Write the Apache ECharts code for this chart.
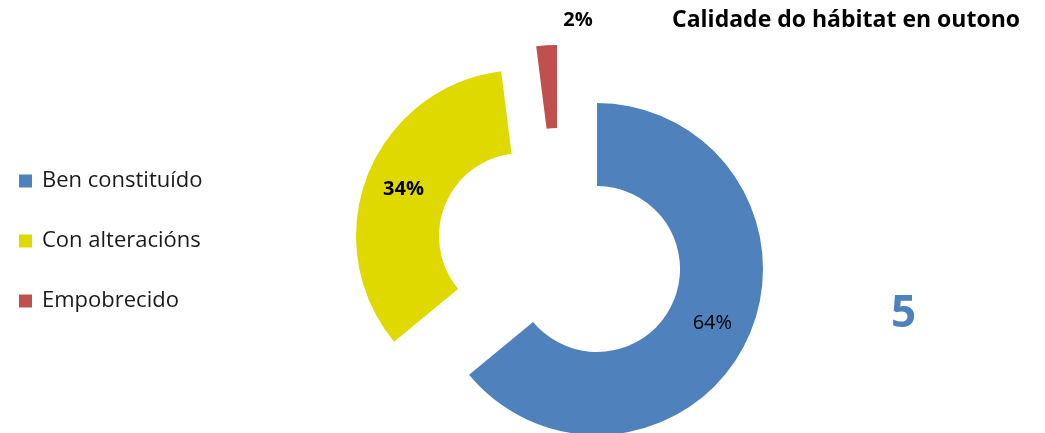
<!DOCTYPE html>
<html>
<head>
<meta charset="utf-8">
<script src="https://cdn.jsdelivr.net/npm/echarts@6/dist/echarts.min.js"></script>
<style>
  html, body { margin: 0; padding: 0; background: #fff; }
  #chart { width: 1045px; height: 433px; }
</style>
</head>
<body>
<div id="chart"></div>
<script>
// Habitat quality shares (autumn)
const categories = ['Ben constituído', 'Con alteracións', 'Empobrecido'];
const shares = [64, 34, 2];
const colors = ['#4f81bd', '#dfd900', '#c0504d'];
const titleText = 'Calidade do hábitat en outono';
const cornerMark = '5';

// Each slice is drawn by its own ring so it can be pulled out from the centre independently.
const sliceCenters = [[597, 269], [522, 236], [557, 211]];
const labelWeights = ['normal', 'bold', 'bold'];

const FONT = '"Open Sans", Lato, sans-serif';

function ringFor(idx) {
  const data = categories.map((name, i) => ({
    name: name,
    value: shares[i],
    itemStyle: { color: i === idx ? colors[i] : 'transparent' },
    label: { show: i === idx },
    emphasis: { disabled: true }
  }));
  const series = {
    type: 'pie',
    center: sliceCenters[idx],
    radius: [83, 166],
    startAngle: 90,
    clockwise: true,
    avoidLabelOverlap: false,
    percentPrecision: 0,
    silent: true,
    legendHoverLink: false,
    animation: false,
    label: {
      position: idx === 2 ? 'outside' : 'inside',
      formatter: '{d}%',
      color: '#000',
      fontFamily: FONT,
      fontSize: 20,
      fontWeight: labelWeights[idx]
    },
    labelLine: { show: false },
    data: data
  };
  if (idx === 2) {
    series.labelLayout = { x: 578, y: 20, align: 'center', verticalAlign: 'middle' };
  }
  return series;
}

const chart = echarts.init(document.getElementById('chart'), null, { renderer: 'canvas' });
chart.setOption({
  backgroundColor: '#fff',
  title: {
    text: titleText,
    right: 20,
    top: 4,
    textStyle: { fontFamily: FONT, fontSize: 23, fontWeight: 'bold', color: '#000' }
  },
  legend: {
    orient: 'vertical',
    left: 14,
    top: 165,
    itemWidth: 13,
    itemHeight: 13,
    itemGap: 38,
    icon: 'rect',
    selectedMode: false,
    data: categories.map((name, i) => ({ name: name, itemStyle: { color: colors[i] } })),
    textStyle: { fontFamily: FONT, fontSize: 22, lineHeight: 22, color: '#1a1a1a', padding: [0, 0, 0, 5] }
  },
  graphic: [{
    type: 'text',
    left: 891,
    top: 292,
    style: { text: cornerMark, fontFamily: FONT, fontSize: 44, fontWeight: 'bold', fill: '#4f81bd' }
  }],
  series: [ringFor(0), ringFor(1), ringFor(2)]
});
</script>
</body>
</html>
